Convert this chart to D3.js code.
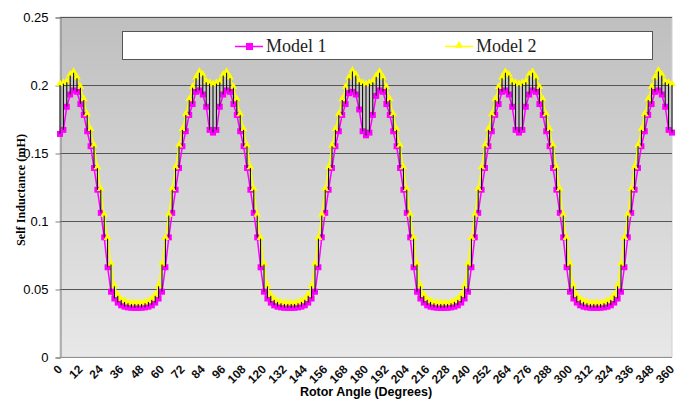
<!doctype html>
<html>
<head>
<meta charset="utf-8">
<script src="https://d3js.org/d3.v7.min.js"></script>
<style>
body { margin: 0; background: #fff; }
</style>
</head>
<body>
<script>

// rotor angle categories (degrees)
var angles = [0,2,4,6,8,10,12,14,16,18,20,22,24,26,28,30,32,34,36,38,40,42,44,46,48,50,52,54,56,58,60,62,64,66,68,70,72,74,76,78,80,82,84,86,88,
  90,92,94,96,98,100,102,104,106,108,110,112,114,116,118,120,122,124,126,128,130,132,134,136,138,140,142,144,146,148,150,152,154,156,158,160,162,164,166,168,170,172,174,176,178,
  180,182,184,186,188,190,192,194,196,198,200,202,204,206,208,210,212,214,216,218,220,222,224,226,228,230,232,234,236,238,240,242,244,246,248,250,252,254,256,258,260,262,264,266,268,
  270,272,274,276,278,280,282,284,286,288,290,292,294,296,298,300,302,304,306,308,310,312,314,316,318,320,322,324,326,328,330,332,334,336,338,340,342,344,346,348,350,352,354,356,358,
  360];

// Model 1 self inductance (mH)
var model1 = [
  0.164,0.167,0.184,0.193,0.196,0.195,0.186,0.178,0.166,0.155,0.139,0.123,0.106,0.088,0.066,0.048,0.043,0.040,0.038,0.037,0.0365,0.0362,0.0361,
  0.0361,0.0362,0.0365,0.037,0.038,0.040,0.043,0.048,0.066,0.088,0.106,0.123,0.139,0.155,0.166,0.178,0.186,0.195,0.196,0.193,0.184,0.167,
  0.165,0.167,0.184,0.193,0.196,0.195,0.186,0.178,0.166,0.155,0.139,0.123,0.106,0.088,0.066,0.048,0.043,0.040,0.038,0.037,0.0365,0.0362,0.0361,
  0.0361,0.0362,0.0365,0.037,0.038,0.040,0.043,0.048,0.066,0.088,0.106,0.123,0.139,0.155,0.166,0.178,0.186,0.194,0.195,0.193,0.182,0.166,
  0.163,0.165,0.178,0.192,0.196,0.195,0.186,0.178,0.166,0.155,0.139,0.123,0.106,0.088,0.066,0.048,0.043,0.040,0.038,0.037,0.0365,0.0362,0.0361,
  0.0361,0.0362,0.0365,0.037,0.038,0.040,0.043,0.048,0.066,0.088,0.106,0.123,0.139,0.155,0.166,0.178,0.186,0.195,0.196,0.193,0.184,0.167,
  0.165,0.167,0.184,0.193,0.196,0.195,0.186,0.178,0.166,0.155,0.139,0.123,0.106,0.088,0.066,0.048,0.043,0.040,0.038,0.037,0.0365,0.0362,0.0361,
  0.0361,0.0362,0.0365,0.037,0.038,0.040,0.043,0.048,0.066,0.088,0.106,0.123,0.139,0.155,0.166,0.178,0.186,0.195,0.196,0.193,0.184,0.167,
  0.165];

// Model 2 self inductance (mH)
var model2 = [
  0.200,0.201,0.202,0.207,0.209,0.205,0.198,0.189,0.178,0.167,0.155,0.139,0.123,0.104,0.087,0.068,0.052,0.045,0.042,0.0405,0.0395,0.039,0.039,
  0.039,0.039,0.0395,0.0405,0.042,0.045,0.052,0.068,0.087,0.104,0.123,0.139,0.155,0.167,0.178,0.189,0.198,0.205,0.209,0.207,0.202,0.201,
  0.200,0.201,0.202,0.207,0.209,0.205,0.198,0.189,0.178,0.167,0.155,0.139,0.123,0.104,0.087,0.068,0.052,0.045,0.042,0.0405,0.0395,0.039,0.039,
  0.039,0.039,0.0395,0.0405,0.042,0.045,0.052,0.068,0.087,0.104,0.123,0.139,0.155,0.167,0.178,0.189,0.198,0.205,0.210,0.207,0.202,0.201,
  0.200,0.201,0.202,0.206,0.209,0.205,0.198,0.189,0.178,0.167,0.155,0.139,0.123,0.104,0.087,0.068,0.052,0.045,0.042,0.0405,0.0395,0.039,0.039,
  0.039,0.039,0.0395,0.0405,0.042,0.045,0.052,0.068,0.087,0.104,0.123,0.139,0.155,0.167,0.178,0.189,0.198,0.205,0.209,0.207,0.202,0.201,
  0.200,0.201,0.202,0.207,0.209,0.205,0.198,0.189,0.178,0.167,0.155,0.139,0.123,0.104,0.087,0.068,0.052,0.045,0.042,0.0405,0.0395,0.039,0.039,
  0.039,0.039,0.0395,0.0405,0.042,0.045,0.052,0.068,0.087,0.104,0.123,0.139,0.155,0.167,0.178,0.189,0.198,0.205,0.210,0.207,0.202,0.201,
  0.200];

var xTickLabels = [0,12,24,36,48,60,72,84,96,108,120,132,144,156,168,180,192,204,216,228,240,252,264,276,288,300,312,324,336,348,360];
var yTickValues = [0,0.05,0.1,0.15,0.2,0.25];
var seriesNames = ["Model 1","Model 2"];

function drawChart(){
    var W = 684, H = 401;
    var pLeft = 60, pRight = 672, pTop = 17, pBottom = 357;

    var svg = d3.select("body").append("svg").attr("width", W).attr("height", H);

    var x = d3.scaleLinear().domain([0, 360]).range([pLeft, pRight]);
    var y = d3.scaleLinear().domain([0, 0.25]).range([pBottom, pTop]);

    var defs = svg.append("defs");
    var grad = defs.append("linearGradient").attr("id", "bg")
        .attr("x1", 0).attr("y1", 0).attr("x2", 0).attr("y2", 1);
    grad.append("stop").attr("offset", "0%").attr("stop-color", "#bfbfbf");
    grad.append("stop").attr("offset", "100%").attr("stop-color", "#e8e8e8");

    // plot area
    svg.append("rect")
        .attr("x", pLeft).attr("y", pTop)
        .attr("width", pRight - pLeft).attr("height", pBottom - pTop)
        .attr("fill", "url(#bg)")
        .attr("stroke", "#d0d0d0");

    // grid lines
    svg.append("g").selectAll("line")
        .data(yTickValues.slice(1))
        .enter().append("line")
        .attr("x1", pLeft).attr("x2", pRight)
        .attr("y1", function(d){ return Math.round(y(d)) + 0.5; })
        .attr("y2", function(d){ return Math.round(y(d)) + 0.5; })
        .attr("stroke", "#555").attr("stroke-width", 1);

    // y axis
    var yAxis = d3.axisLeft(y).tickValues(yTickValues).tickSize(5).tickPadding(7)
        .tickFormat(function(d){ return d === 0 ? "0" : String(d); });
    var gy = svg.append("g").attr("transform", "translate(" + (pLeft + 0.5) + ",0.5)").call(yAxis);
    gy.select(".domain").attr("stroke", "#808080");
    gy.selectAll(".tick line").attr("stroke", "#808080");
    gy.selectAll(".tick text")
        .attr("font-family", "Arial, 'Liberation Sans', sans-serif")
        .attr("font-size", "13px").attr("fill", "#000");

    // x axis line
    svg.append("line")
        .attr("x1", pLeft).attr("x2", pRight)
        .attr("y1", pBottom + 0.5).attr("y2", pBottom + 0.5)
        .attr("stroke", "#909090");

    // x tick labels
    svg.append("g").selectAll("text")
        .data(xTickLabels)
        .enter().append("text")
        .attr("transform", function(d){ return "translate(" + (x(d) + 3) + ",370) rotate(-45)"; })
        .attr("text-anchor", "end")
        .attr("font-family", "Arial, 'Liberation Sans', sans-serif")
        .attr("font-weight", "bold")
        .attr("font-size", "12px")
        .attr("fill", "#111")
        .text(function(d){ return d; });

    // axis titles
    svg.append("text")
        .attr("x", 366).attr("y", 396)
        .attr("text-anchor", "middle")
        .attr("font-family", "Arial, 'Liberation Sans', sans-serif")
        .attr("font-weight", "bold").attr("font-size", "12.5px")
        .text("Rotor Angle (Degrees)");

    svg.append("text")
        .attr("transform", "translate(25,190) rotate(-90)")
        .attr("text-anchor", "middle")
        .attr("font-family", "'Liberation Serif', 'Times New Roman', serif")
        .attr("font-weight", "bold").attr("font-size", "13px")
        .attr("textLength", 112).attr("lengthAdjust", "spacingAndGlyphs")
        .text("Self Inductance (mH)");

    // series
    var idx = d3.range(angles.length);
    var line1 = d3.line().x(function(i){ return x(angles[i]); }).y(function(i){ return y(model1[i]); });
    var line2 = d3.line().x(function(i){ return x(angles[i]); }).y(function(i){ return y(model2[i]); });

    svg.append("path").datum(idx).attr("d", line1)
        .attr("fill", "none").attr("stroke", "#ff00ff").attr("stroke-width", 1.5);

    svg.append("g").selectAll("rect")
        .data(idx).enter().append("rect")
        .attr("x", function(i){ return x(angles[i]) - 3; })
        .attr("y", function(i){ return y(model1[i]) - 3; })
        .attr("width", 6).attr("height", 6)
        .attr("fill", "#ff00ff");

    svg.append("path").datum(idx).attr("d", line2)
        .attr("fill", "none").attr("stroke", "#ffff00").attr("stroke-width", 1.5);

    var tri = d3.symbol().type(d3.symbolTriangle).size(26);
    svg.append("g").selectAll("path")
        .data(idx).enter().append("path")
        .attr("d", tri)
        .attr("transform", function(i){ return "translate(" + x(angles[i]) + "," + (y(model2[i]) - 1) + ")"; })
        .attr("fill", "#ffff00");

    // high-low lines
    svg.append("g").selectAll("line")
        .data(idx).enter().append("line")
        .attr("x1", function(i){ return x(angles[i]); })
        .attr("x2", function(i){ return x(angles[i]); })
        .attr("y1", function(i){ return y(model1[i]); })
        .attr("y2", function(i){ return y(model2[i]); })
        .attr("stroke", "#000").attr("stroke-width", 1);

    // legend
    var lg = svg.append("g");
    lg.append("rect")
        .attr("x", 122.5).attr("y", 31.5).attr("width", 530).attr("height", 28)
        .attr("fill", "#fff").attr("stroke", "#555");

    var legendX = [235, 445];
    var legendColor = ["#ff00ff", "#ffff00"];
    seriesNames.forEach(function(name, k){
        var lx = legendX[k], ly = 46.5;
        lg.append("line").attr("x1", lx).attr("x2", lx + 28).attr("y1", ly).attr("y2", ly)
            .attr("stroke", legendColor[k]).attr("stroke-width", 1.5);
        if (k === 0) {
            lg.append("rect").attr("x", lx + 11).attr("y", ly - 3.5).attr("width", 7).attr("height", 7)
                .attr("fill", legendColor[k]);
        } else {
            lg.append("path").attr("d", tri).attr("transform", "translate(" + (lx + 14) + "," + (ly - 1) + ")")
                .attr("fill", legendColor[k]);
        }
        lg.append("text").attr("x", lx + 31).attr("y", 52)
            .attr("font-family", "'Liberation Serif', 'Times New Roman', serif")
            .attr("font-size", "18px").attr("fill", "#222")
            .text(name);
    });
}
drawChart();

</script>
</body>
</html>
